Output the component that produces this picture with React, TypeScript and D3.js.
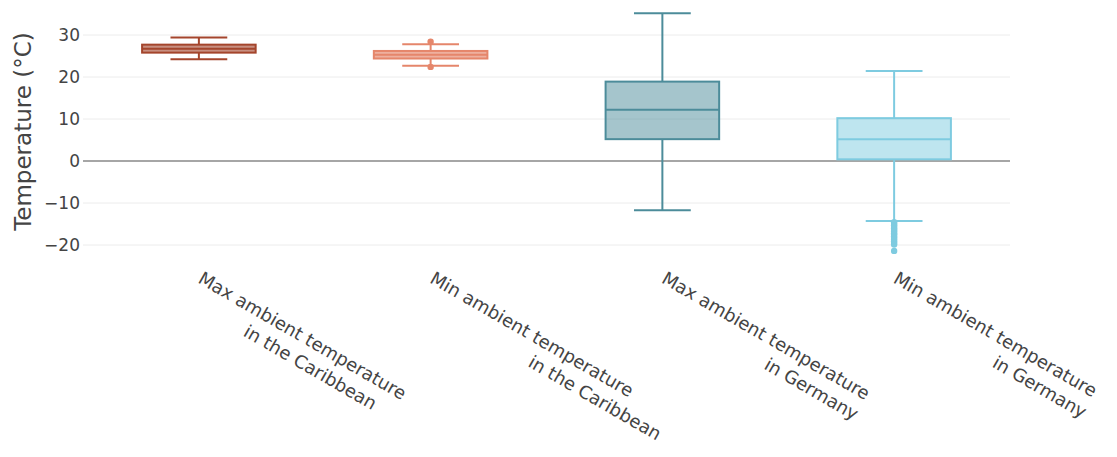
import React from "react";
import * as d3 from "d3";

// Category keys and their two-line axis labels
const categories = ["maxCaribbean", "minCaribbean", "maxGermany", "minGermany"];
const labelLine1 = [
  "Max ambient temperature",
  "Min ambient temperature",
  "Max ambient temperature",
  "Min ambient temperature",
];
const labelLine2 = ["in the Caribbean", "in the Caribbean", "in Germany", "in Germany"];

// Box statistics (°C)
const lowerFence = [24.2, 22.7, -11.7, -14.3];
const q1 = [25.8, 24.4, 5.2, 0.4];
const median = [26.7, 25.3, 12.2, 5.2];
const q3 = [27.7, 26.2, 18.9, 10.2];
const upperFence = [29.4, 27.8, 35.2, 21.4];
const outliers: number[][] = [
  [],
  [28.4, 22.4],
  [],
  [-14.6, -15.0, -15.3, -15.7, -16.1, -16.4, -16.8, -17.2, -17.5, -17.9, -18.3, -18.7, -19.1, -19.5, -19.9, -21.4],
];

const yTicks = [-20, -10, 0, 10, 20, 30];

// Styling
const colors = ["#a4452c", "#e5866b", "#4c8c9a", "#7ecbe0"];
const fillOpacity = [0.6, 0.65, 0.5, 0.5];
const line2Indent = [66, 127, 132, 128];

const W = 1117;
const H = 457;
const plotLeft = 83;
const plotRight = 1010;
const font = "'DejaVu Sans', Verdana, sans-serif";

export default function App() {
  const x = d3.scaleBand<string>().domain(categories).range([plotLeft, plotRight]).padding(0);
  const y = d3.scaleLinear().domain([-24, 35.7]).range([261.8, 11.06]);
  const bw = x.bandwidth();
  const boxW = bw * 0.49;
  const capW = boxW / 2;
  const fmt = d3.format("");

  return (
    <svg
      width={W}
      height={H}
      style={{ position: "fixed", left: 0, top: 0, background: "#fff", display: "block" }}
    >
      {/* grid */}
      {yTicks
        .filter((t) => t !== 0)
        .map((t) => (
          <line key={t} x1={plotLeft} x2={plotRight} y1={y(t)} y2={y(t)} stroke="#ececec" strokeWidth={1} />
        ))}
      <line x1={plotLeft} x2={plotRight} y1={y(0)} y2={y(0)} stroke="#888" strokeWidth={1.5} />

      {/* y tick labels */}
      {yTicks.map((t) => (
        <text
          key={t}
          x={plotLeft - 3}
          y={y(t)}
          dy="0.36em"
          textAnchor="end"
          fontFamily={font}
          fontSize={17}
          fill="#444"
        >
          {fmt(t)}
        </text>
      ))}

      {/* y axis title */}
      <text
        transform={`translate(31,${y(7.0)}) rotate(-90)`}
        textAnchor="middle"
        fontFamily={font}
        fontSize={23}
        fill="#444"
      >
        Temperature (°C)
      </text>

      {/* boxes */}
      {categories.map((c, i) => {
        const cx = (x(c) as number) + bw / 2;
        const col = colors[i];
        return (
          <g key={c}>
            <line x1={cx} x2={cx} y1={y(upperFence[i])} y2={y(q3[i])} stroke={col} strokeWidth={2} />
            <line x1={cx} x2={cx} y1={y(q1[i])} y2={y(lowerFence[i])} stroke={col} strokeWidth={2} />
            <line x1={cx - capW / 2} x2={cx + capW / 2} y1={y(upperFence[i])} y2={y(upperFence[i])} stroke={col} strokeWidth={2} />
            <line x1={cx - capW / 2} x2={cx + capW / 2} y1={y(lowerFence[i])} y2={y(lowerFence[i])} stroke={col} strokeWidth={2} />
            <rect
              x={cx - boxW / 2}
              y={y(q3[i])}
              width={boxW}
              height={y(q1[i]) - y(q3[i])}
              fill={col}
              fillOpacity={fillOpacity[i]}
              stroke={col}
              strokeWidth={2}
            />
            <line x1={cx - boxW / 2} x2={cx + boxW / 2} y1={y(median[i])} y2={y(median[i])} stroke={col} strokeWidth={2} />
            {outliers[i].map((v, k) => (
              <circle key={k} cx={cx} cy={y(v)} r={3.2} fill={col} />
            ))}
          </g>
        );
      })}

      {/* category labels */}
      {categories.map((c, i) => {
        const cx = (x(c) as number) + bw / 2;
        return (
          <g key={c} transform={`translate(${cx - 2},282) rotate(30)`}>
            <text x={0} y={0} fontFamily={font} fontSize={18} fill="#444">
              {labelLine1[i]}
            </text>
            <text x={line2Indent[i]} y={23.4} fontFamily={font} fontSize={18} fill="#444">
              {labelLine2[i]}
            </text>
          </g>
        );
      })}
    </svg>
  );
}
